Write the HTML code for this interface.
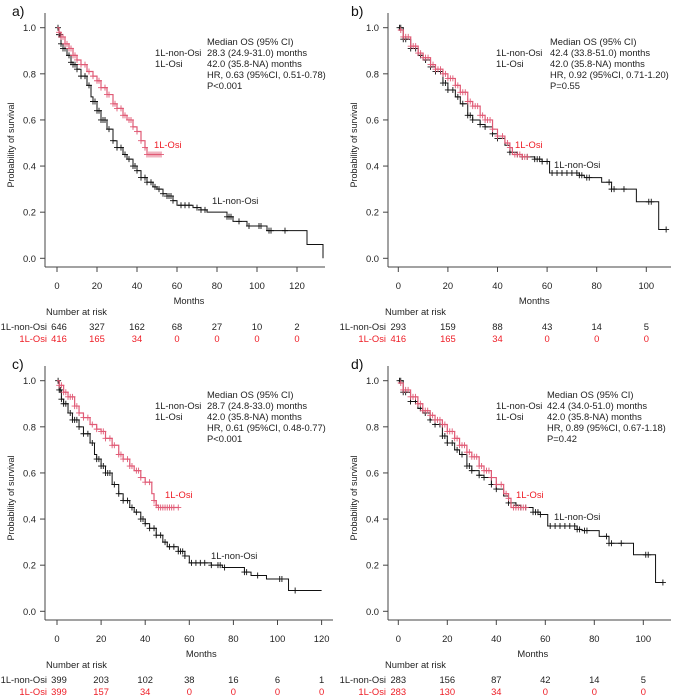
<!DOCTYPE html>
<html><head><meta charset="utf-8">
<style>
html,body{margin:0;padding:0;background:#fff;}
svg{display:block;font-family:"Liberation Sans","DejaVu Sans",sans-serif;}
</style></head>
<body>
<svg id="chart" width="676" height="696" viewBox="0 0 676 696"></svg>
<script>
// ---- data ----
const aNonOsi = [[0,1],[1,0.97],[2,0.93],[3,0.91],[5,0.88],[7,0.85],[8,0.84],[10,0.82],[12,0.79],[15,0.75],[17,0.70],[18,0.68],[20,0.64],[22,0.60],[25,0.56],[28,0.51],[30,0.48],[33,0.45],[35,0.43],[38,0.40],[40,0.38],[42,0.35],[45,0.33],[48,0.31],[50,0.30],[53,0.28],[55,0.27],[58,0.25],[60,0.23],[68,0.22],[72,0.21],[75,0.20],[85,0.18],[88,0.16],[95,0.14],[105,0.12],[125,0.06],[133,0.0]];
const aNonOsiEnd = 133;
const aNonOsiCens = [0.5,1,1.5,2,3,4,6,7,8,9,10,12,14,16,18,19,20,21,22,23,24,26,28,30,32,34,36,38,39,40,42,44,45,47,49,51,53,55,56,57,58,62,64,66,70,72,74,85,86,87,91,96,101,102,106,107,114];
const aOsi = [[0,1],[1,0.98],[2,0.96],[4,0.93],[6,0.91],[8,0.88],[10,0.86],[12,0.84],[15,0.81],[18,0.79],[20,0.77],[22,0.74],[25,0.71],[28,0.67],[30,0.65],[33,0.62],[35,0.60],[38,0.57],[40,0.55],[42,0.51],[44,0.48],[45,0.45]];
const aOsiEnd = 52;
const aOsiCens = [1,2,3,4,5,6,7,8,9,10,12,14,16,18,20,21,22,24,25,26,28,29,30,32,33,34,36,37,38,40,42,44,45,46,47,48,49,50,51,52];

const bNonOsi = [[0,1],[2,0.95],[5,0.91],[8,0.88],[10,0.86],[13,0.83],[15,0.81],[18,0.76],[20,0.73],[23,0.70],[25,0.67],[28,0.62],[30,0.60],[33,0.58],[35,0.57],[38,0.54],[40,0.52],[43,0.49],[45,0.46],[48,0.45],[50,0.44],[55,0.43],[58,0.42],[61,0.37],[73,0.36],[75,0.35],[82,0.33],[86,0.30],[96,0.245],[105,0.125]];
const bNonOsiEnd = 108;
const bNonOsiCens = [0.5,1,2,3,5,7,9,11,13,15,17,18,19,20,22,24,26,28,29,30,33,35,38,40,45,48,50,52,55,56,57,58,60,62,64,66,68,70,72,73,74,76,77,85,86,87,91,101,102,108];
const bOsi = [[0,0.99],[2,0.96],[5,0.92],[8,0.89],[10,0.87],[13,0.84],[15,0.82],[18,0.80],[20,0.78],[23,0.75],[25,0.72],[28,0.68],[30,0.66],[33,0.62],[35,0.60],[38,0.56],[40,0.53],[43,0.50],[45,0.48],[46,0.45],[50,0.44]];
const bOsiEnd = 52;
const bOsiCens = [1,2,3,4,5,6,7,8,9,10,11,12,13,14,15,16,17,18,19,20,21,22,23,24,25,26,27,28,29,30,31,32,33,34,35,36,37,38,40,42,44,45,47,48,49,50,51,52];

const cNonOsi = [[0,1],[1,0.96],[2,0.92],[3,0.90],[5,0.86],[7,0.83],[10,0.80],[12,0.77],[15,0.73],[17,0.68],[18,0.66],[20,0.63],[22,0.60],[25,0.55],[28,0.51],[30,0.48],[33,0.45],[35,0.43],[38,0.40],[40,0.38],[42,0.36],[45,0.33],[48,0.30],[50,0.28],[55,0.26],[58,0.24],[60,0.21],[70,0.20],[75,0.19],[85,0.17],[88,0.155],[95,0.14],[105,0.09]];
const cNonOsiEnd = 120;
const cNonOsiCens = [0.5,1,1.5,2,3,4,6,7,8,9,10,12,14,16,18,19,20,21,22,23,24,26,28,30,32,34,36,38,39,40,42,44,45,47,49,51,53,55,56,57,58,61,63,65,67,70,73,74,76,85,86,91,101,102,108];
const cOsi = [[0,1],[1,0.98],[3,0.95],[5,0.93],[8,0.89],[10,0.86],[12,0.84],[15,0.81],[18,0.79],[20,0.78],[22,0.75],[25,0.72],[28,0.68],[30,0.66],[33,0.63],[35,0.61],[38,0.58],[40,0.56],[43,0.51],[44,0.48],[45,0.46],[46,0.45]];
const cOsiEnd = 55;
const cOsiCens = [1,2,3,4,5,6,7,8,9,10,12,14,16,18,20,21,22,24,25,26,28,29,30,32,33,34,36,37,38,40,42,44,45,46,47,48,49,50,51,52,53,55];

const dNonOsi = [[0,1],[2,0.95],[5,0.91],[8,0.88],[10,0.86],[13,0.83],[15,0.81],[18,0.76],[20,0.73],[23,0.70],[25,0.68],[28,0.63],[30,0.61],[33,0.59],[35,0.58],[38,0.55],[40,0.53],[43,0.50],[45,0.47],[48,0.46],[50,0.45],[55,0.43],[58,0.42],[61,0.37],[73,0.355],[75,0.35],[82,0.325],[86,0.295],[96,0.245],[105,0.125]];
const dNonOsiEnd = 108;
const dNonOsiCens = [0.5,1,2,3,5,7,9,11,13,15,17,18,19,20,22,24,26,28,29,30,33,35,38,40,45,48,50,52,55,56,57,58,62,64,66,68,70,72,73,74,76,77,85,86,87,91,101,102,108];
const dOsi = [[0,0.99],[2,0.96],[5,0.93],[8,0.90],[10,0.87],[13,0.85],[15,0.83],[18,0.81],[20,0.78],[23,0.75],[25,0.72],[28,0.69],[30,0.67],[33,0.63],[35,0.61],[38,0.58],[40,0.55],[43,0.51],[45,0.49],[46,0.45]];
const dOsiEnd = 52;
const dOsiCens = [1,2,3,4,5,6,7,8,9,10,11,12,13,14,15,16,17,18,19,20,21,22,23,24,25,26,27,28,29,30,31,32,33,34,35,36,37,38,40,42,44,45,47,48,49,50,51,52];

const yTickLabels = ["0.0","0.2","0.4","0.6","0.8","1.0"];
const aXTicks = [0,20,40,60,80,100,120];
const bXTicks = [0,20,40,60,80,100];
const aRiskNon = ["646","327","162","68","27","10","2"];
const aRiskOsi = ["416","165","34","0","0","0","0"];
const bRiskNon = ["293","159","88","43","14","5"];
const bRiskOsi = ["416","165","34","0","0","0"];
const cRiskNon = ["399","203","102","38","16","6","1"];
const cRiskOsi = ["399","157","34","0","0","0","0"];
const dRiskNon = ["283","156","87","42","14","5"];
const dRiskOsi = ["283","130","34","0","0","0"];
const aStats = ["28.3 (24.9-31.0) months","42.0 (35.8-NA) months","HR, 0.63 (95%CI, 0.51-0.78)","P<0.001"];
const bStats = ["42.4 (33.8-51.0) months","42.0 (35.8-NA) months","HR, 0.92 (95%CI, 0.71-1.20)","P=0.55"];
const cStats = ["28.7 (24.8-33.0) months","42.0 (35.8-NA) months","HR, 0.61 (95%CI, 0.48-0.77)","P<0.001"];
const dStats = ["42.4 (34.0-51.0) months","42.0 (35.8-NA) months","HR, 0.89 (95%CI, 0.67-1.18)","P=0.42"];

// ---- drawing ----
const NS = "http://www.w3.org/2000/svg";
const svg = document.getElementById("chart");
const RED_LINE = "#e05a75", RED_TXT = "#ee1c25";
function mk(tag, attrs, parent) {
  const e = document.createElementNS(NS, tag);
  for (const k in attrs) e.setAttribute(k, attrs[k]);
  (parent || svg).appendChild(e);
  return e;
}
function txt(s, x, y, opts, parent) {
  const e = mk("text", Object.assign({x:x, y:y, "font-size":9.4, fill:"#222"}, opts || {}), parent);
  e.textContent = s;
  return e;
}
function survAt(curve, t) {
  let s = curve[0][1];
  for (const p of curve) { if (p[0] <= t) s = p[1]; else break; }
  return s;
}

const panels = [
  {id:"a", oy:0, xAxis:45, x0:57, ppm:2.0, axisEnd:325, ticks:aXTicks, non:aNonOsi, nonEnd:aNonOsiEnd, nonC:aNonOsiCens, osi:aOsi, osiEnd:aOsiEnd, osiC:aOsiCens, rn:aRiskNon, ro:aRiskOsi, stats:aStats, statX:207, labX:155, osiLab:[154,148], nonLab:[212,204], rowLabR:47},
  {id:"b", oy:0, xAxis:388, x0:398.3, ppm:2.48, axisEnd:671, ticks:bXTicks, non:bNonOsi, nonEnd:bNonOsiEnd, nonC:bNonOsiCens, osi:bOsi, osiEnd:bOsiEnd, osiC:bOsiCens, rn:bRiskNon, ro:bRiskOsi, stats:bStats, statX:550, labX:496, osiLab:[515,148], nonLab:[554,168], rowLabR:386},
  {id:"c", oy:353, xAxis:45, x0:57, ppm:2.205, axisEnd:333, ticks:aXTicks, non:cNonOsi, nonEnd:cNonOsiEnd, nonC:cNonOsiCens, osi:cOsi, osiEnd:cOsiEnd, osiC:cOsiCens, rn:cRiskNon, ro:cRiskOsi, stats:cStats, statX:207, labX:155, osiLab:[165,145], nonLab:[211,206], rowLabR:47},
  {id:"d", oy:353, xAxis:388, x0:398.3, ppm:2.45, axisEnd:671, ticks:bXTicks, non:dNonOsi, nonEnd:dNonOsiEnd, nonC:dNonOsiCens, osi:dOsi, osiEnd:dOsiEnd, osiC:dOsiCens, rn:dRiskNon, ro:dRiskOsi, stats:dStats, statX:547, labX:496, osiLab:[516,145], nonLab:[554,167], rowLabR:386}
];

panels.forEach(P => {
  const g = mk("g", {});
  
  
  const oy = P.oy;
  const yTop = 27.7 + oy, yBot = 258.3 + oy;
  const X = t => P.x0 + t * P.ppm;
  const Y = s => yBot - s * (yBot - yTop);

  const lab = txt(P.id + ")", P.xAxis - 33 + (P.id==="b"||P.id==="d"?-4:0), 16 + oy, {"font-size":14, fill:"#111"}, g);
  
  

  const ya = mk("line", {x1:P.xAxis, y1:13+oy, x2:P.xAxis, y2:267+oy, stroke:"#444", "stroke-width":1}, g);
  
  
  const xa = mk("line", {x1:P.xAxis, y1:267+oy, x2:P.axisEnd, y2:267+oy, stroke:"#444", "stroke-width":1}, g);
  
  
  yTickLabels.forEach(l => {
    const v = parseFloat(l);
    mk("line", {x1:P.xAxis-5, y1:Y(v), x2:P.xAxis, y2:Y(v), stroke:"#444"}, g);
    const t = txt(l, P.xAxis-9, Y(v)+3.5, {"text-anchor":"end"}, g);
    
    
  });
  P.ticks.forEach(v => {
    mk("line", {x1:X(v), y1:267+oy, x2:X(v), y2:272+oy, stroke:"#444"}, g);
    const t = txt(String(v), X(v), 289+oy, {"text-anchor":"middle"}, g);
    
    
  });
  const xt = txt("Months", (P.x0 + X(P.ticks[P.ticks.length-1]))/2 + 12, 304+oy, {"text-anchor":"middle"}, g);
  
  
  const ytx = P.xAxis - 31, yty = 145 + oy;
  const yt = txt("Probability of survival", ytx, yty, {"text-anchor":"middle", transform:"rotate(-90 "+ytx+" "+yty+")", "font-size":9}, g);
  
  

  function drawCurve(curve, end, cens, color, w, name) {
    let d = "M" + X(curve[0][0]) + " " + Y(curve[0][1]);
    for (let i = 1; i < curve.length; i++) d += " H" + X(curve[i][0]) + " V" + Y(curve[i][1]);
    d += " H" + X(end);
    const p = mk("path", {d:d, fill:"none", stroke:color, "stroke-width":w}, g);
    
    
    let cd = "";
    cens.forEach(t => {
      const cx = X(t), cy = Y(survAt(curve, t));
      cd += "M" + (cx-3) + " " + cy + " H" + (cx+3) + " M" + cx + " " + (cy-3) + " V" + (cy+3) + " ";
    });
    const c = mk("path", {d:cd, fill:"none", stroke:color, "stroke-width":0.9}, g);
    
    
  }
  drawCurve(P.non, P.nonEnd, P.nonC, "#111", 1, "non-osi");
  drawCurve(P.osi, P.osiEnd, P.osiC, RED_LINE, 1.2, "osi");

  const ol = txt("1L-Osi", P.osiLab[0], P.osiLab[1] + oy, {fill:RED_TXT}, g);
  
  
  const nl = txt("1L-non-Osi", P.nonLab[0], P.nonLab[1] + oy, {}, g);
  
  

  const st = mk("g", {}, g);
  
  
  txt("Median OS (95% CI)", P.statX, 45 + oy, {}, st);
  txt("1L-non-Osi", P.labX, 56 + oy, {}, st);
  txt("1L-Osi", P.labX, 67 + oy, {}, st);
  P.stats.forEach((s, i) => txt(s, P.statX, 56 + i*11 + oy, {}, st));

  const rt = mk("g", {}, g);
  
  
  txt("Number at risk", P.rowLabR - 1, 315 + oy, {}, rt);
  txt("1L-non-Osi", P.rowLabR, 330 + oy, {"text-anchor":"end"}, rt);
  txt("1L-Osi", P.rowLabR, 342 + oy, {"text-anchor":"end", fill:RED_TXT}, rt);
  P.rn.forEach((v, i) => txt(v, X(P.ticks[i]) + (i===0 && P.id!=="b" && P.id!=="d" ? 2 : 0), 330 + oy, {"text-anchor":"middle"}, rt));
  P.ro.forEach((v, i) => txt(v, X(P.ticks[i]) + (i===0 && P.id!=="b" && P.id!=="d" ? 2 : 0), 342 + oy, {"text-anchor":"middle", fill:RED_TXT}, rt));
});
</script>
</body></html>
